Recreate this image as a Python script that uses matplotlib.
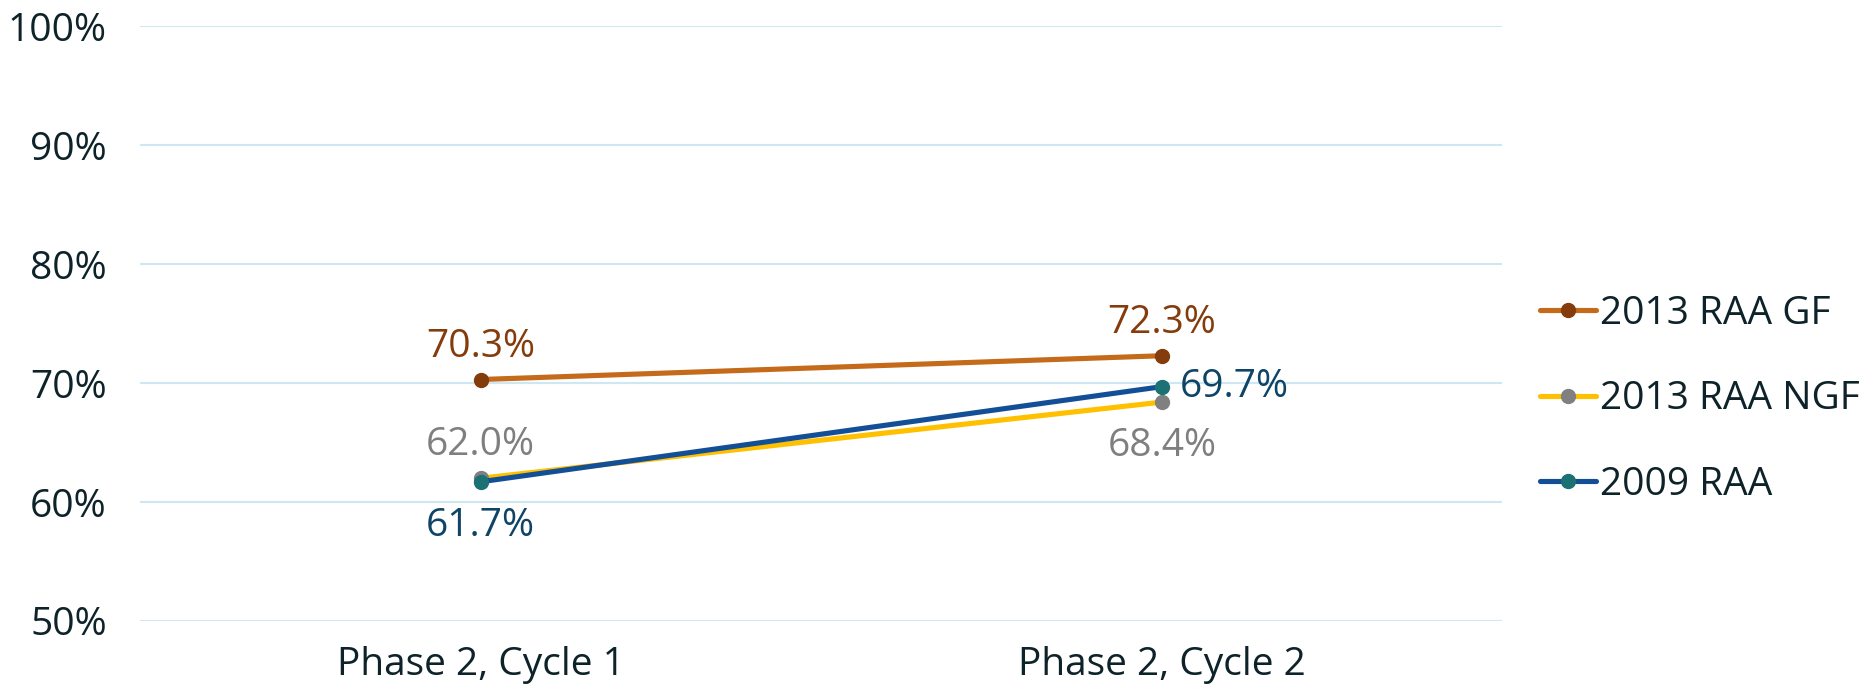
import matplotlib
matplotlib.use("Agg")
import matplotlib.pyplot as plt
from matplotlib.ticker import PercentFormatter

plt.rcParams["font.family"] = ["Open Sans", "DejaVu Sans"]

phases = ["Phase 2, Cycle 1", "Phase 2, Cycle 2"]
series_names = ["2013 RAA GF", "2013 RAA NGF", "2009 RAA"]
raa_gf = [70.3, 72.3]
raa_ngf = [62.0, 68.4]
raa_2009 = [61.7, 69.7]

TEXT = "#0d2329"
GRID = "#cfe7f0"
FS = 28

# line colour, marker colour, label colour, label placement per point
styles = [
    ("#c5691a", "#843c0c", "#843c0c", ["above", "above"]),
    ("#ffc000", "#808080", "#7f7f7f", ["above", "below"]),
    ("#134f96", "#1b7173", "#0e4466", ["below", "right"]),
]

fig = plt.figure(figsize=(18.74, 6.93), dpi=100)
ax = fig.add_axes([0.0747, 0.104, 0.727, 0.858])

x = list(range(len(phases)))
for name, vals, (lc, mc, tc, places) in zip(series_names, [raa_gf, raa_ngf, raa_2009], styles):
    ax.plot(x, vals, color=lc, linewidth=3.7, marker="o", markersize=10,
            markerfacecolor=mc, markeredgecolor=mc, label=name, solid_capstyle="round",
            zorder=3)
    for xi, v, where in zip(x, vals, places):
        txt = f"{v:.1f}%"
        if where == "above":
            ax.annotate(txt, (xi, v), xytext=(0, 10), textcoords="offset points",
                        ha="center", va="bottom", color=tc, fontsize=FS)
        elif where == "below":
            ax.annotate(txt, (xi, v), xytext=(0, -18), textcoords="offset points",
                        ha="center", va="top", color=tc, fontsize=FS)
        else:
            ax.annotate(txt, (xi, v), xytext=(13, 0), textcoords="offset points",
                        ha="left", va="center", color=tc, fontsize=FS)

ax.set_xlim(-0.5, 1.5)
ax.set_ylim(50, 100)
ax.set_yticks(range(50, 101, 10))
ax.yaxis.set_major_formatter(PercentFormatter(decimals=0))
ax.set_xticks(x)
ax.set_xticklabels(phases)
ax.grid(axis="y", color=GRID, linewidth=1.5, zorder=0)
ax.tick_params(axis="both", length=0, labelsize=FS, labelcolor=TEXT)
ax.tick_params(axis="y", pad=24)
ax.tick_params(axis="x", pad=18)
for s in ax.spines.values():
    s.set_visible(False)

ax.legend(loc="center left", bbox_to_anchor=(1540 / 1874, 0.424),
          bbox_transform=fig.transFigure, frameon=False,
          fontsize=FS, labelcolor=TEXT, handlelength=1.43, handletextpad=0.12,
          labelspacing=1.22, borderaxespad=0, borderpad=0)

fig.savefig("out.png", dpi=100)
